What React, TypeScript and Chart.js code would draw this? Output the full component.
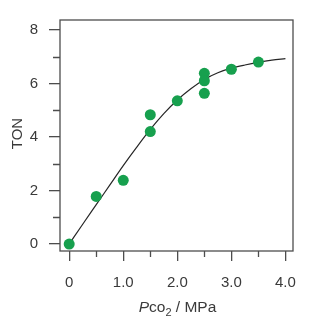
import React, { useEffect, useRef } from "react";
import { Chart, registerables } from "chart.js";

Chart.register(...registerables);

// Measured TON vs CO2 pressure
const pressureMPa = [0, 0.5, 1.0, 1.5, 1.5, 2.0, 2.5, 2.5, 2.5, 3.0, 3.5];
const tonMeasured = [0, 1.78, 2.38, 4.83, 4.2, 5.35, 6.38, 6.1, 5.63, 6.53, 6.8];

// Fitted curve
const fitPressure = [0, 0.25, 0.5, 0.75, 1.0, 1.25, 1.5, 1.75, 2.0, 2.25, 2.5, 2.75, 3.0, 3.25, 3.5, 3.75, 4.0];
const fitTon = [0, 0.74, 1.47, 2.2, 2.93, 3.62, 4.28, 4.87, 5.38, 5.8, 6.15, 6.4, 6.57, 6.69, 6.79, 6.87, 6.93];

const xMajorTicks = [0, 1, 2, 3, 4];
const xTickLabels = ["0", "1.0", "2.0", "3.0", "4.0"];
const xMinorTicks = [0.5, 1.5, 2.5, 3.5];
const yMajorTicks = [0, 2, 4, 6, 8];
const yTickLabels = ["0", "2", "4", "6", "8"];
const yMinorTicks = [1, 3, 5, 7];

const FONT = "'Liberation Sans', Arial, Helvetica, sans-serif";
const AXIS_COLOR = "#4d4d4d";
const TEXT_COLOR = "#3a3a3a";
const GREEN = "#17a04e";

const framePlugin = {
  id: "framePlugin",
  afterDraw(chart: any) {
    const { ctx, chartArea } = chart;
    const xs = chart.scales.x;
    const ys = chart.scales.y;
    ctx.save();
    ctx.strokeStyle = AXIS_COLOR;
    ctx.lineWidth = 1.3;
    ctx.strokeRect(chartArea.left, chartArea.top, chartArea.right - chartArea.left, chartArea.bottom - chartArea.top);
    // minor ticks
    ctx.beginPath();
    for (const v of xMinorTicks) {
      const px = Math.round(xs.getPixelForValue(v)) + 0.5;
      ctx.moveTo(px, chartArea.bottom);
      ctx.lineTo(px, chartArea.bottom + 6);
    }
    for (const v of yMinorTicks) {
      const py = Math.round(ys.getPixelForValue(v)) + 0.5;
      ctx.moveTo(chartArea.left, py);
      ctx.lineTo(chartArea.left - 7, py);
    }
    ctx.stroke();

    // Y axis title
    ctx.fillStyle = TEXT_COLOR;
    ctx.font = `15px ${FONT}`;
    ctx.textAlign = "center";
    ctx.textBaseline = "middle";
    ctx.save();
    ctx.translate(18, 133.5);
    ctx.rotate(-Math.PI / 2);
    ctx.fillText("TON", 0, 0);
    ctx.restore();

    // X axis title: P(italic) co (sub 2) / MPa
    ctx.textBaseline = "alphabetic";
    ctx.textAlign = "left";
    const parts = [
      { t: "P", f: `italic 15.5px ${FONT}`, dy: 0 },
      { t: "co", f: `15.5px ${FONT}`, dy: 0 },
      { t: "2", f: `11px ${FONT}`, dy: 4 },
      { t: " / MPa", f: `15.5px ${FONT}`, dy: 0 },
    ];
    let total = 0;
    for (const p of parts) {
      ctx.font = p.f;
      total += ctx.measureText(p.t).width;
    }
    let x = 177.5 - total / 2;
    const baseY = 311.5;
    for (const p of parts) {
      ctx.font = p.f;
      ctx.fillText(p.t, x, baseY + p.dy);
      x += ctx.measureText(p.t).width;
    }
    ctx.restore();
  },
};

export default function App() {
  const ref = useRef<HTMLCanvasElement | null>(null);
  useEffect(() => {
    if (!ref.current) return;
    const chart = new Chart(ref.current, {
      type: "scatter",
      data: {
        datasets: [
          {
            label: "measured",
            data: pressureMPa.map((p, i) => ({ x: p, y: tonMeasured[i] })),
            pointRadius: 5.5,
            pointBackgroundColor: GREEN,
            pointBorderColor: GREEN,
            pointBorderWidth: 0,
            showLine: false,
          },
          {
            label: "fit",
            data: fitPressure.map((p, i) => ({ x: p, y: fitTon[i] })),
            showLine: true,
            pointRadius: 0,
            borderColor: "#262626",
            borderWidth: 1.2,
            cubicInterpolationMode: "monotone",
          } as any,
        ],
      },
      options: {
        animation: false,
        responsive: false,
        events: [],
        layout: { padding: { top: 19, right: 21, left: 0, bottom: 0 } },
        plugins: { legend: { display: false }, tooltip: { enabled: false } },
        scales: {
          x: {
            type: "linear",
            min: -0.17,
            max: 4.14,
            border: { display: false },
            grid: {
              drawOnChartArea: false,
              drawTicks: true,
              tickLength: 10,
              color: AXIS_COLOR,
              lineWidth: 1.3,
            },
            afterBuildTicks: (scale: any) => {
              scale.ticks = xMajorTicks.map((v) => ({ value: v }));
            },
            ticks: {
              includeBounds: false,
              autoSkip: false,
              maxRotation: 0,
              padding: 13,
              color: TEXT_COLOR,
              font: { family: FONT, size: 15 },
              callback: (v: any) => {
                const i = xMajorTicks.indexOf(Number(v));
                return i >= 0 ? xTickLabels[i] : "";
              },
            },
            afterFit: (scale: any) => {
              scale.height = 69;
            },
          },
          y: {
            type: "linear",
            min: -0.26,
            max: 8.37,
            border: { display: false },
            grid: {
              drawOnChartArea: false,
              drawTicks: true,
              tickLength: 11,
              color: AXIS_COLOR,
              lineWidth: 1.3,
            },
            afterBuildTicks: (scale: any) => {
              scale.ticks = yMajorTicks.map((v) => ({ value: v }));
            },
            ticks: {
              includeBounds: false,
              autoSkip: false,
              padding: 11,
              color: TEXT_COLOR,
              font: { family: FONT, size: 15 },
              callback: (v: any) => {
                const i = yMajorTicks.indexOf(Number(v));
                return i >= 0 ? yTickLabels[i] : "";
              },
            },
            afterFit: (scale: any) => {
              scale.width = 60;
            },
          },
        },
      },
      plugins: [framePlugin],
    });
    return () => chart.destroy();
  }, []);
  return (
    <div style={{ position: "fixed", left: 0, top: 0, width: 314, height: 320, background: "#fff" }}>
      <canvas ref={ref} width={314} height={320} style={{ display: "block" }} />
    </div>
  );
}
